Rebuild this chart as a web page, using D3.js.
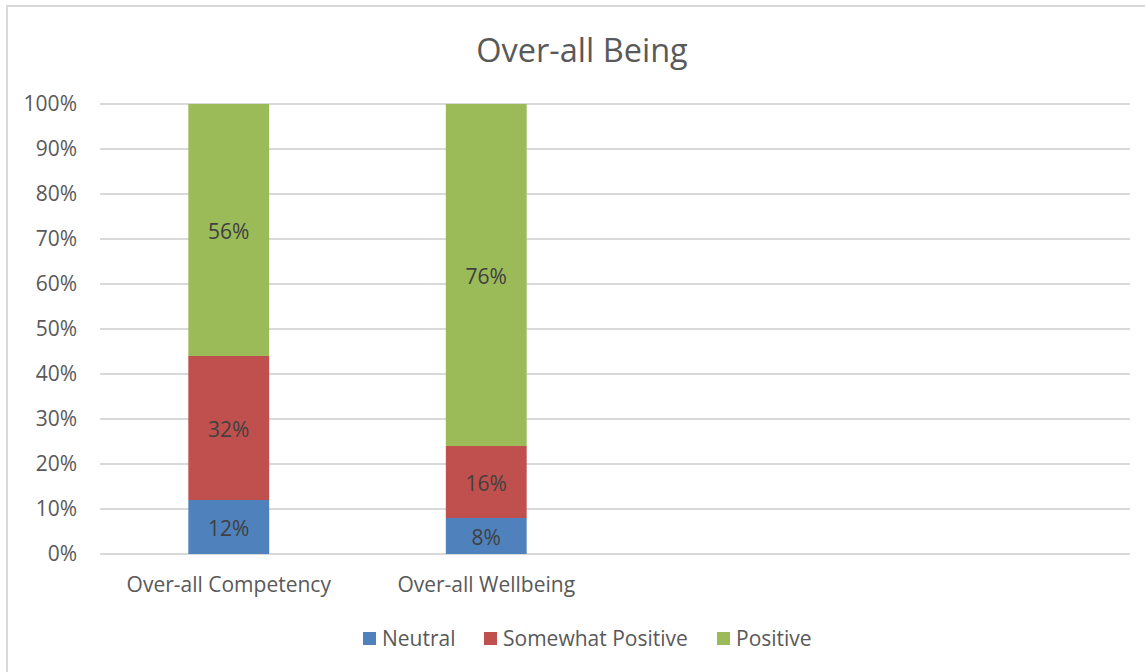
<!DOCTYPE html>
<html>
<head>
<meta charset="utf-8">
<title>Over-all Being</title>
<script src="https://d3js.org/d3.v7.min.js"></script>
<style>
  body { margin: 0; background: #fff; }
  text { font-family: "Open Sans", "Noto Sans", sans-serif; }
</style>
</head>
<body>
<script>
// data
var categories = ["Over-all Competency", "Over-all Wellbeing", "", " "];
var seriesNames = ["Neutral", "Somewhat Positive", "Positive"];
var neutral = [12, 8, null, null];
var somewhatPositive = [32, 16, null, null];
var positive = [56, 76, null, null];
var yTicks = [0, 10, 20, 30, 40, 50, 60, 70, 80, 90, 100];
var colors = ["#4F81BD", "#C0504D", "#9BBB59"];

var W = 1145, H = 672;
var m = { left: 100, right: 1130, top: 104, bottom: 554 };
var FONT = "'Open Sans', 'Noto Sans', sans-serif";

var svg = d3.select("body").append("svg")
  .attr("width", W).attr("height", H);

// chart border
svg.append("rect")
  .attr("x", 7).attr("y", 6).attr("width", 1160).attr("height", 680)
  .attr("fill", "#fff").attr("stroke", "#D9D9D9").attr("stroke-width", 2);

var x = d3.scaleBand().domain(categories).range([m.left, m.right])
  .paddingInner(0.686).paddingOuter(0.343);
var y = d3.scaleLinear().domain([0, 100]).range([m.bottom, m.top]);

// gridlines
svg.append("g").selectAll("line").data(yTicks).enter().append("line")
  .attr("x1", m.left).attr("x2", m.right)
  .attr("y1", function(d) { return y(d); })
  .attr("y2", function(d) { return y(d); })
  .attr("stroke", "#D9D9D9").attr("stroke-width", 2);

// y axis labels
var yAxis = d3.axisLeft(y).tickValues(yTicks)
  .tickFormat(function(d) { return d + "%"; }).tickSize(0).tickPadding(0);
var gy = svg.append("g").attr("transform", "translate(77,0)").call(yAxis);
gy.select(".domain").remove();
gy.selectAll("text").attr("fill", "#595959").style("font-size", "21px")
  .style("font-family", FONT);

// x axis labels
var xAxis = d3.axisBottom(x).tickSize(0).tickPadding(0);
var gx = svg.append("g").attr("transform", "translate(0,577)").call(xAxis);
gx.select(".domain").remove();
gx.selectAll("text").attr("fill", "#595959").style("font-size", "21px")
  .style("font-family", FONT);

// stacked data
var rows = categories.map(function(c, i) {
  return { cat: c, Neutral: neutral[i] || 0, "Somewhat Positive": somewhatPositive[i] || 0, Positive: positive[i] || 0, has: neutral[i] != null };
}).filter(function(r) { return r.has; });
var stack = d3.stack().keys(seriesNames)(rows);

var layers = svg.append("g").selectAll("g").data(stack).enter().append("g")
  .attr("fill", function(d, i) { return colors[i]; });

layers.selectAll("rect").data(function(d) { return d; }).enter().append("rect")
  .attr("x", function(d) { return x(d.data.cat); })
  .attr("width", x.bandwidth())
  .attr("y", function(d) { return y(d[1]); })
  .attr("height", function(d) { return y(d[0]) - y(d[1]); });

layers.selectAll("text").data(function(d) { return d; }).enter().append("text")
  .attr("x", function(d) { return x(d.data.cat) + x.bandwidth() / 2; })
  .attr("y", function(d) { return (y(d[0]) + y(d[1])) / 2; })
  .attr("dy", "0.45em")
  .attr("text-anchor", "middle")
  .attr("fill", "#404040").style("font-size", "21px")
  .text(function(d) { return (d[1] - d[0]) + "%"; });

// title
svg.append("text").attr("x", 582).attr("y", 62).attr("text-anchor", "middle")
  .attr("fill", "#595959").style("font-size", "32.5px").text("Over-all Being");

// legend
var legendX = [363, 484, 717];
var lg = svg.append("g").selectAll("g").data(seriesNames).enter().append("g")
  .attr("transform", function(d, i) { return "translate(" + legendX[i] + ",632)"; });
lg.append("rect").attr("width", 13).attr("height", 13)
  .attr("fill", function(d, i) { return colors[i]; });
lg.append("text").attr("x", 19).attr("y", 6.5).attr("dy", "0.35em")
  .attr("fill", "#595959").style("font-size", "21px")
  .text(function(d) { return d; });
</script>
</body>
</html>
